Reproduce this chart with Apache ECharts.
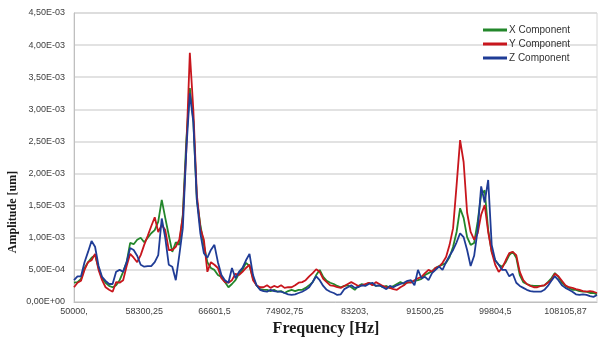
<!DOCTYPE html>
<html>
<head>
<meta charset="utf-8">
<script src="https://cdn.jsdelivr.net/npm/echarts@6/dist/echarts.min.js"></script>
<style>html,body{margin:0;padding:0;background:#fff}#c{width:599px;height:340px}</style>
</head>
<body>
<div id="c"></div>
<script>
// x tick labels shown every 20 samples (frequency in Hz)
var xTickLabels = ['50000,', '58300,25', '66601,5', '74902,75', '83203,', '91500,25', '99804,5', '108105,87'];
var samplesPerTick = 20;
var sampleCount = 150;
var categories = [];
for (var i = 0; i < sampleCount; i++) categories.push(String(i));

// amplitudes in units of 1E-04 um
var xComponent = [
3.0,3.1,3.6,5.3,6.2,6.9,7.3,5.3,3.7,3.0,
2.5,2.3,2.6,3.4,4.7,6.2,9.2,9.0,9.7,10.0,
9.3,10.0,10.7,11.2,12.5,15.9,13.1,10.4,7.8,9.3,
8.9,13.6,25.2,33.3,28.3,15.9,12.0,8.9,6.2,5.3,
5.0,4.2,3.9,3.1,2.3,2.8,3.4,4.4,5.0,6.1,
5.6,3.7,2.6,2.0,1.9,1.9,1.7,1.9,1.6,1.7,
1.4,1.7,1.9,1.7,1.9,1.9,2.2,2.6,3.1,4.2,
5.0,3.9,3.3,3.0,2.8,2.5,2.3,2.5,2.6,2.3,
1.9,2.5,2.8,2.6,3.0,2.8,2.5,2.6,2.3,2.5,
2.2,2.5,2.8,3.1,2.8,3.0,3.1,3.3,3.4,3.6,
4.2,4.5,4.8,5.3,5.6,5.8,6.1,7.0,8.6,10.9,
14.6,13.1,10.1,8.9,9.2,12.5,16.7,17.4,11.2,7.8,
6.5,5.8,5.5,6.2,7.3,7.8,6.9,4.2,3.1,2.8,
2.6,2.5,2.5,2.5,2.6,3.1,3.7,4.5,3.9,3.0,
2.5,2.2,1.9,1.9,1.7,1.6,1.6,1.4,1.4,1.2
];
var yComponent = [
2.3,3.0,3.3,5.0,6.2,6.5,7.5,5.0,3.4,2.3,
1.9,1.6,3.1,3.0,3.4,5.6,7.5,6.9,6.2,7.3,
8.9,10.3,11.8,13.2,10.9,12.0,11.2,8.1,8.1,8.6,
9.7,13.2,23.7,38.8,29.9,16.7,11.5,9.7,4.7,6.2,
5.8,5.3,3.7,3.1,3.0,3.4,4.4,4.2,4.7,5.3,
5.8,3.4,2.6,2.3,2.3,2.6,2.2,2.5,2.3,2.6,
2.2,2.3,2.3,2.6,3.0,3.1,3.4,4.0,4.5,5.1,
4.7,3.6,3.1,2.6,2.5,2.3,2.2,2.5,2.8,3.1,
2.8,2.5,2.6,2.8,3.0,2.6,3.1,2.8,2.5,2.3,
2.2,2.0,1.9,2.3,2.6,3.1,3.0,3.4,3.7,3.9,
4.5,5.0,4.7,5.3,5.5,6.1,7.0,8.9,11.5,18.2,
25.2,21.8,13.9,10.9,9.7,10.7,13.6,15.1,10.9,7.8,
5.8,4.7,5.3,6.5,7.6,7.8,7.3,4.7,3.4,2.8,
2.5,2.3,2.3,2.5,2.6,3.0,3.4,4.4,4.0,3.3,
2.6,2.3,2.2,2.0,1.9,1.7,1.6,1.7,1.6,1.4
];
var zComponent = [
3.4,4.0,4.0,6.2,7.8,9.5,8.6,5.6,3.9,3.3,
2.8,2.8,4.7,5.0,4.7,6.2,8.4,8.1,7.2,5.8,
5.5,5.6,5.6,6.2,7.3,13.0,10.0,5.8,5.5,3.4,
7.3,11.5,23.7,32.5,28.0,15.9,10.7,7.6,6.9,8.1,
8.9,6.2,4.2,3.4,3.0,5.3,3.7,4.7,5.3,6.5,
7.5,4.2,2.6,1.9,1.7,1.6,1.9,1.7,1.6,1.6,
1.4,1.2,1.1,1.2,1.4,1.6,1.9,2.3,3.1,4.0,
3.4,2.5,1.9,1.6,1.4,1.1,1.2,2.0,2.3,2.6,
2.2,2.3,2.6,2.5,2.8,3.0,2.5,2.6,2.3,2.0,
2.5,2.3,2.6,2.8,3.0,3.3,3.4,2.6,5.0,3.7,
3.9,3.4,4.5,5.0,5.5,5.0,6.2,7.2,8.1,9.3,
10.7,10.1,8.1,5.6,7.2,11.2,18.0,15.5,19.0,8.9,
6.5,5.8,5.0,5.0,4.0,4.4,3.0,2.5,2.2,1.9,
1.7,1.6,1.6,1.6,1.9,2.5,3.3,4.0,3.4,2.6,
2.2,1.9,1.6,1.2,1.1,1.2,1.1,0.9,0.8,1.1
];

var seriesNames = ['X Component', 'Y Component', 'Z Component'];
var seriesColors = ['#23872b', '#c8161d', '#1f3c96'];

function yFmt(v) {
  if (v === 0) return '0,00E+00';
  if (v < 10) return v.toFixed(2).replace('.', ',') + 'E-04';
  return (v / 10).toFixed(2).replace('.', ',') + 'E-03';
}

var chart = echarts.init(document.getElementById('c'), null, {renderer: 'canvas'});
chart.setOption({
  animation: false,
  backgroundColor: '#ffffff',
  grid: {left: 74, right: 2, top: 13, bottom: 38, show: true, borderColor: '#d6d6d6', borderWidth: 1},
  legend: {
    orient: 'vertical', left: 483, top: 25, itemGap: 4, padding: 0,
    icon: 'rect', itemWidth: 24, itemHeight: 3,
    textStyle: {fontFamily: 'Liberation Sans', fontSize: 10, color: '#333', padding: [0, 0, 0, -3]},
    data: seriesNames
  },
  xAxis: {
    type: 'category', data: categories, boundaryGap: false,
    axisLine: {lineStyle: {color: '#bfbfbf', width: 1}},
    axisTick: {show: false},
    axisLabel: {
      interval: samplesPerTick - 1, margin: 5,
      fontFamily: 'Liberation Sans', fontSize: 9, color: '#404040',
      formatter: function (v, idx) { return xTickLabels[idx / samplesPerTick] || ''; }
    },
    splitLine: {show: false}
  },
  yAxis: {
    type: 'value', min: 0, max: 45, interval: 5,
    axisLine: {show: true, lineStyle: {color: '#bfbfbf', width: 1}},
    axisTick: {show: false},
    axisLabel: {margin: 9, fontFamily: 'Liberation Sans', fontSize: 9, color: '#404040', formatter: yFmt},
    splitLine: {lineStyle: {color: '#d9d9d9', width: 1.5}}
  },
  series: seriesNames.map(function (n, k) {
    return {
      name: n, type: 'line', symbol: 'none', smooth: false,
      data: [xComponent, yComponent, zComponent][k],
      lineStyle: {color: seriesColors[k], width: 1.8},
      itemStyle: {color: seriesColors[k]}
    };
  }),
  graphic: [
    {type: 'text', x: 13, y: 212, rotation: Math.PI / 2,
     style: {text: 'Amplitude [um]', font: 'bold 12px "Liberation Serif"', fill: '#1a1a1a', textAlign: 'center', textVerticalAlign: 'middle'}},
    {type: 'text', x: 326, y: 329,
     style: {text: 'Frequency [Hz]', font: 'bold 16px "Liberation Serif"', fill: '#1a1a1a', textAlign: 'center', textVerticalAlign: 'middle'}}
  ]
});
</script>
</body>
</html>
